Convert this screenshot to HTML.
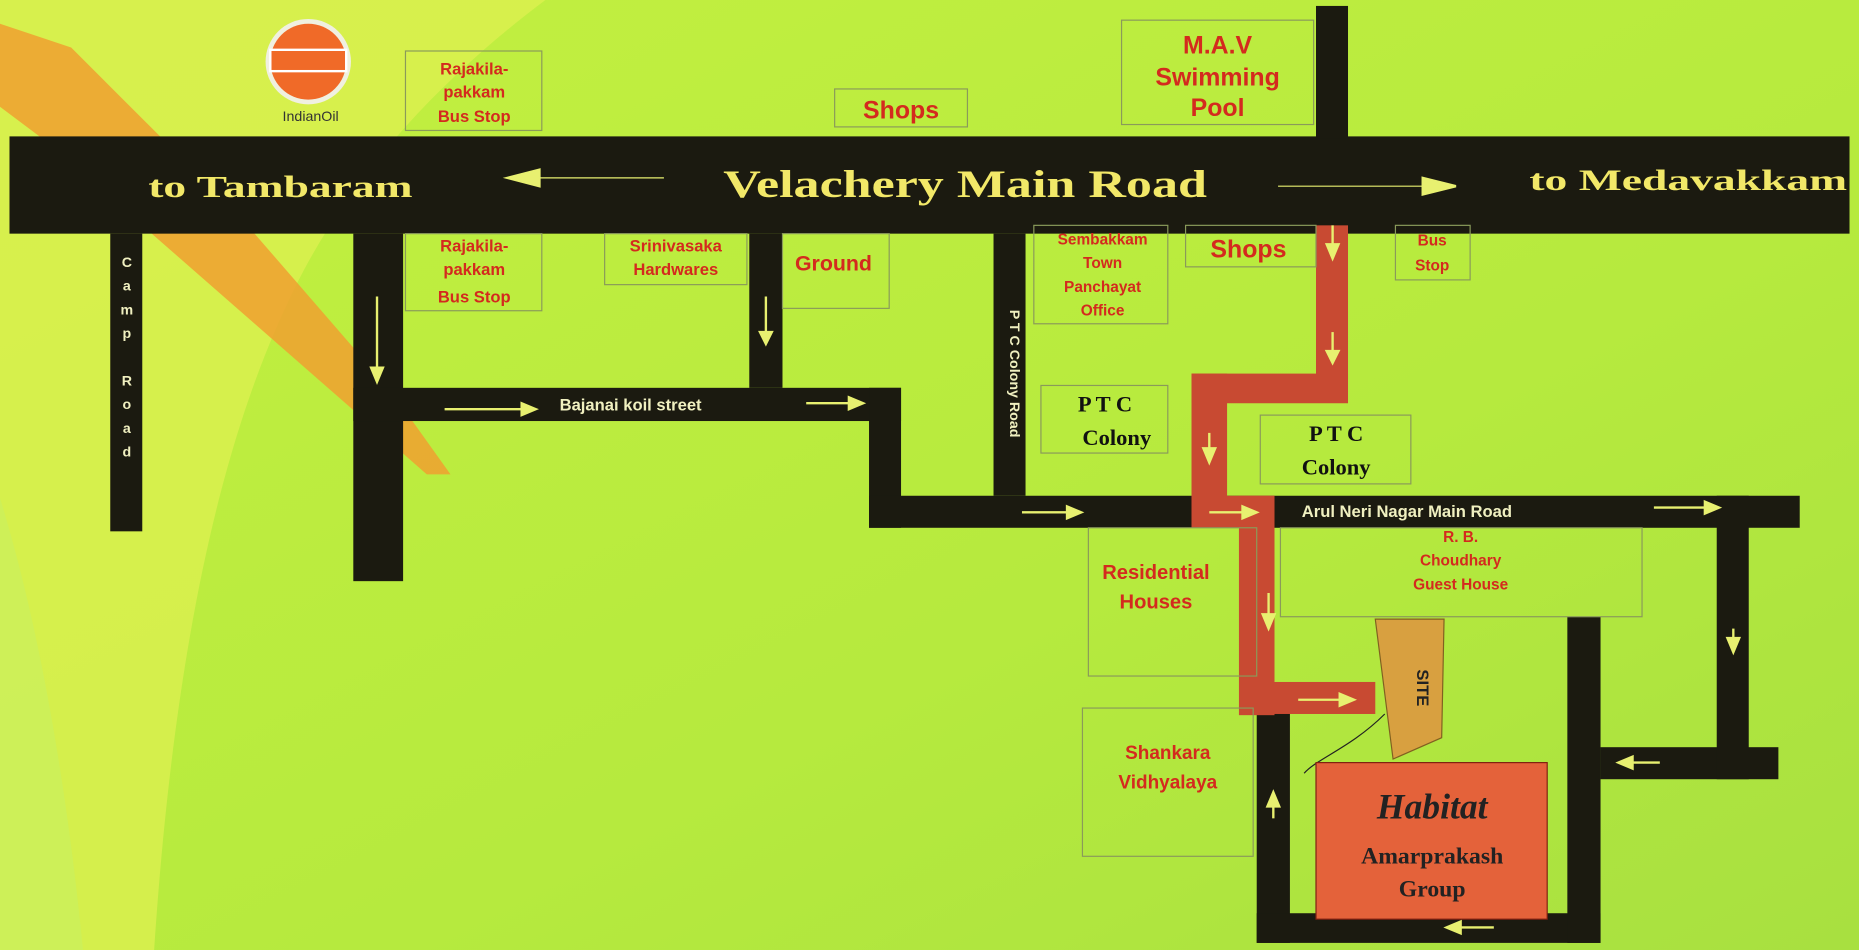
<!DOCTYPE html>
<html><head><meta charset="utf-8"><style>
html,body{margin:0;padding:0;background:#b8ec3c;}
svg{display:block}
.r{fill:#d42a1e;font-family:"Liberation Sans",sans-serif;font-weight:bold;text-anchor:middle}
.b{fill:none;stroke:#8a9a5a;stroke-width:1}
.k{fill:#1b1a10}
.y{fill:#f2e868;font-family:"Liberation Serif",serif;font-weight:bold}
.w{fill:#f0f0c0;font-family:"Liberation Sans",sans-serif;font-weight:bold;font-size:14px}
.ar{stroke:#e8f070;stroke-width:2;fill:#e8f070}
</style></head><body>
<svg width="1859" height="950" viewBox="0 0 1568 801" preserveAspectRatio="none" xmlns="http://www.w3.org/2000/svg">
<defs>
<linearGradient id="bg" x1="0" y1="0" x2="1" y2="1">
<stop offset="0" stop-color="#c4f040"/><stop offset="0.6" stop-color="#b6ea3e"/><stop offset="1" stop-color="#a8e040"/>
</linearGradient>
</defs>
<rect width="1568" height="801" fill="url(#bg)"/>
<path d="M0,0 L460,0 C380,60 300,140 250,240 C200,340 150,500 130,801 L0,801 Z" fill="#dcf050" opacity="0.8"/>
<polygon points="0,20 60,40 200,180 330,330 380,400 360,400 200,260 40,120 0,90" fill="#f0a030" opacity="0.85"/>
<path d="M0,420 C40,550 60,700 70,801 L0,801 Z" fill="#c8f060" opacity="0.6"/>

<!-- roads -->
<g class="k">
<rect x="8" y="115" width="1552" height="82"/>
<rect x="1110" y="5" width="27" height="112"/>
<rect x="93" y="197" width="27" height="251"/>
<rect x="298" y="197" width="42" height="293"/>
<rect x="298" y="327" width="462" height="28"/>
<rect x="733" y="327" width="27" height="118"/>
<rect x="733" y="418" width="785" height="27"/>
<rect x="632" y="197" width="28" height="130"/>
<rect x="838" y="197" width="27" height="221"/>
<rect x="1060" y="600" width="28" height="195"/>
<rect x="1060" y="770" width="290" height="25"/>
<rect x="1322" y="520" width="28" height="275"/>
<rect x="1350" y="630" width="150" height="27"/>
<rect x="1448" y="418" width="27" height="239"/>
</g>
<g fill="#c84a32">
<rect x="1110" y="190" width="27" height="130"/>
<rect x="1005" y="315" width="132" height="25"/>
<rect x="1005" y="315" width="30" height="130"/>
<rect x="1005" y="418" width="70" height="27"/>
<rect x="1045" y="418" width="30" height="185"/>
<rect x="1060" y="575" width="100" height="27"/>
</g>

<!-- boxes -->
<g class="b">
<rect x="342" y="43" width="115" height="67"/>
<rect x="342" y="197" width="115" height="65"/>
<rect x="704" y="75" width="112" height="32"/>
<rect x="946" y="17" width="162" height="88"/>
<rect x="510" y="197" width="120" height="43"/>
<rect x="660" y="197" width="90" height="63"/>
<rect x="872" y="190" width="113" height="83"/>
<rect x="1000" y="190" width="110" height="35"/>
<rect x="1177" y="190" width="63" height="46"/>
<rect x="878" y="325" width="107" height="57"/>
<rect x="1063" y="350" width="127" height="58"/>
<rect x="918" y="445" width="142" height="125"/>
<rect x="1080" y="445" width="305" height="75"/>
<rect x="913" y="597" width="144" height="125"/>
</g>
<polygon points="1160,522 1218,522 1216,622 1175,640" fill="#d8a040" stroke="#806020"/>
<text x="1195" y="580" font-family="Liberation Sans,sans-serif" font-weight="bold" font-size="14" fill="#222" transform="rotate(90 1195 580)" text-anchor="middle">SITE</text>
<path d="M1100,652 C1110,640 1140,630 1168,602" stroke="#222" fill="none"/>
<rect x="1110" y="643" width="195" height="132" fill="#e4623a" stroke="#802010"/>
<text x="1208" y="690" font-family="Liberation Serif,serif" font-style="italic" font-weight="bold" font-size="30" fill="#222" text-anchor="middle">Habitat</text>
<text x="1208" y="728" font-family="Liberation Serif,serif" font-weight="bold" font-size="20" fill="#222" text-anchor="middle">Amarprakash</text>
<text x="1208" y="756" font-family="Liberation Serif,serif" font-weight="bold" font-size="20" fill="#222" text-anchor="middle">Group</text>

<!-- indianoil -->
<circle cx="260" cy="52" r="36" fill="#f0f0e0"/>
<circle cx="260" cy="52" r="32" fill="#f06a28"/>
<rect x="228" y="42" width="64" height="18" fill="#f06a28" stroke="#fff" stroke-width="2"/>
<text x="262" y="102" font-family="Liberation Sans,sans-serif" font-size="12" fill="#333" text-anchor="middle">IndianOil</text>

<!-- main road labels -->
<text class="y" x="125" y="166" font-size="26" textLength="223" lengthAdjust="spacingAndGlyphs">to Tambaram</text>
<text class="y" x="610" y="166" font-size="33" textLength="408" lengthAdjust="spacingAndGlyphs">Velachery Main Road</text>
<text class="y" x="1290" y="160" font-size="25" textLength="268" lengthAdjust="spacingAndGlyphs">to Medavakkam</text>
<g class="ar">
<line x1="455" y1="150" x2="560" y2="150" stroke-width="1"/><polygon points="428,150 455,143 455,157"/>
<line x1="1078" y1="157" x2="1200" y2="157" stroke-width="1"/><polygon points="1228,157 1200,150 1200,164"/>
<line x1="375" y1="345" x2="440" y2="345"/><polygon points="452,345 440,340 440,350"/>
<line x1="680" y1="340" x2="718" y2="340"/><polygon points="728,340 716,335 716,345"/>
<line x1="862" y1="432" x2="900" y2="432"/><polygon points="912,432 900,427 900,437"/>
<line x1="1020" y1="432" x2="1050" y2="432"/><polygon points="1060,432 1048,427 1048,437"/>
<line x1="1395" y1="428" x2="1440" y2="428"/><polygon points="1450,428 1438,423 1438,433"/>
<line x1="1095" y1="590" x2="1130" y2="590"/><polygon points="1142,590 1130,585 1130,595"/>
<line x1="318" y1="250" x2="318" y2="310"/><polygon points="318,322 313,310 323,310"/>
<line x1="646" y1="250" x2="646" y2="280"/><polygon points="646,290 641,280 651,280"/>
<line x1="1124" y1="190" x2="1124" y2="210"/><polygon points="1124,218 1119,206 1129,206"/>
<line x1="1124" y1="280" x2="1124" y2="298"/><polygon points="1124,306 1119,296 1129,296"/>
<line x1="1020" y1="365" x2="1020" y2="380"/><polygon points="1020,390 1015,378 1025,378"/>
<line x1="1070" y1="500" x2="1070" y2="520"/><polygon points="1070,530 1065,518 1075,518"/>
<line x1="1462" y1="530" x2="1462" y2="540"/><polygon points="1462,550 1457,538 1467,538"/>
<line x1="1400" y1="643" x2="1375" y2="643"/><polygon points="1365,643 1377,638 1377,648"/>
<line x1="1260" y1="782" x2="1230" y2="782"/><polygon points="1220,782 1232,777 1232,787"/>
<line x1="1074" y1="690" x2="1074" y2="680"/><polygon points="1074,668 1069,680 1079,680"/>
</g>
<text class="w" x="472" y="346">Bajanai koil street</text>
<text class="w" x="1098" y="436">Arul Neri Nagar Main Road</text>
<g font-family="Liberation Sans,sans-serif" font-weight="bold" font-size="12" fill="#f0f0c0" text-anchor="middle">
<text x="107" y="225">C</text><text x="107" y="245">a</text><text x="107" y="265">m</text><text x="107" y="285">p</text>
<text x="107" y="325">R</text><text x="107" y="345">o</text><text x="107" y="365">a</text><text x="107" y="385">d</text>
</g>
<text x="852" y="315" font-family="Liberation Sans,sans-serif" font-weight="bold" font-size="12" fill="#f0f0c0" text-anchor="middle" transform="rotate(90 852 315)">P T C  Colony  Road</text>

<!-- red labels -->
<g class="r" font-size="14">
<text x="400" y="63">Rajakila-</text><text x="400" y="82">pakkam</text><text x="400" y="103">Bus Stop</text>
<text x="400" y="212">Rajakila-</text><text x="400" y="232">pakkam</text><text x="400" y="255">Bus Stop</text>
<text x="570" y="212">Srinivasaka</text><text x="570" y="232">Hardwares</text>
<text x="930" y="206" font-size="13">Sembakkam</text><text x="930" y="226" font-size="13">Town</text><text x="930" y="246" font-size="13">Panchayat</text><text x="930" y="266" font-size="13">Office</text>
<text x="1208" y="207" font-size="13">Bus</text><text x="1208" y="228" font-size="13">Stop</text>
<text x="975" y="488" font-size="17">Residential</text><text x="975" y="513" font-size="17">Houses</text>
<text x="1232" y="457" font-size="13">R. B.</text><text x="1232" y="477" font-size="13">Choudhary</text><text x="1232" y="497" font-size="13">Guest House</text>
<text x="985" y="640" font-size="16">Shankara</text><text x="985" y="665" font-size="16">Vidhyalaya</text>
</g>
<g class="r" font-size="21">
<text x="760" y="100">Shops</text>
<text x="1027" y="45">M.A.V</text><text x="1027" y="72">Swimming</text><text x="1027" y="98">Pool</text>
<text x="1053" y="217">Shops</text>
<text x="703" y="228" font-size="18">Ground</text>
</g>
<g font-family="Liberation Serif,serif" font-weight="bold" font-size="19" fill="#111" text-anchor="middle">
<text x="932" y="347">P T C</text><text x="942" y="375">Colony</text>
<text x="1127" y="372">P T C</text><text x="1127" y="400">Colony</text>
</g>
</svg>
</body></html>
